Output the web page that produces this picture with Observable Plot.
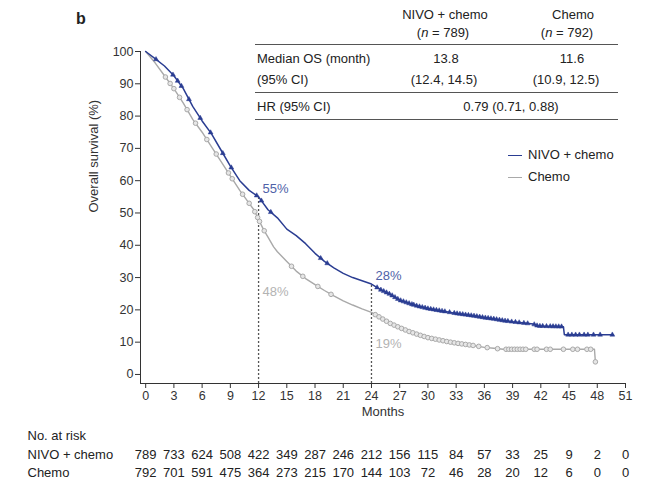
<!DOCTYPE html>
<html>
<head>
<meta charset="utf-8">
<script src="https://cdn.jsdelivr.net/npm/d3@7"></script>
<script src="https://cdn.jsdelivr.net/npm/@observablehq/plot@0.6"></script>
<style>
  body { margin: 0; background: #fff; }
  #wrap { position: relative; width: 651px; height: 486px; font-family: "Liberation Sans", Arial, sans-serif; color: #222; }
  .t { position: absolute; font-size: 13px; line-height: 16px; white-space: nowrap; }
  .c { transform: translateX(-50%); }
  .hl { position: absolute; left: 255px; width: 363px; height: 0; border-top: 1.5px solid #555; }
  .lg { position: absolute; width: 14px; height: 0; }
</style>
</head>
<body>
<div id="wrap">
  <div id="chart"></div>
  <div class="t" style="left:76px;top:11px;font-size:16px;font-weight:bold;">b</div>

  <div class="t c" style="left:445px;top:7px;">NIVO + chemo</div>
  <div class="t c" style="left:443px;top:25px;">(<i>n</i> = 789)</div>
  <div class="t c" style="left:573px;top:7px;">Chemo</div>
  <div class="t c" style="left:567px;top:25px;">(<i>n</i> = 792)</div>
  <div class="hl" style="top:44px;"></div>
  <div class="t" style="left:257px;top:51px;">Median OS (month)</div>
  <div class="t c" style="left:446px;top:51px;">13.8</div>
  <div class="t c" style="left:572px;top:51px;">11.6</div>
  <div class="t" style="left:257px;top:72px;">(95% CI)</div>
  <div class="t c" style="left:444px;top:72px;">(12.4, 14.5)</div>
  <div class="t c" style="left:566px;top:72px;">(10.9, 12.5)</div>
  <div class="hl" style="top:92px;"></div>
  <div class="t" style="left:257px;top:99px;">HR (95% CI)</div>
  <div class="t c" style="left:511px;top:99px;">0.79 (0.71, 0.88)</div>
  <div class="hl" style="top:119px;"></div>

  <div class="lg" style="left:508px;top:155px;border-top:1.5px solid #2a3d92;"></div>
  <div class="t" style="left:528px;top:147px;">NIVO + chemo</div>
  <div class="lg" style="left:508px;top:177px;border-top:1.5px solid #a9a9a9;"></div>
  <div class="t" style="left:528px;top:169px;">Chemo</div>
</div>
<script>
// ---- data ----
const xTicks = [0, 3, 6, 9, 12, 15, 18, 21, 24, 27, 30, 33, 36, 39, 42, 45, 48, 51];
const yTicks = [0, 10, 20, 30, 40, 50, 60, 70, 80, 90, 100];

const nivoTime = [0, 1, 2, 3, 4, 5, 6, 7, 8, 9, 10, 11, 12, 13, 14, 15, 16, 17, 18, 19, 20, 21, 22, 23, 24,
  25, 26, 27, 28, 29, 30, 31, 32, 33, 34, 35, 36, 37, 38, 39, 40, 41.2, 41.7, 44.4, 44.5, 49.7];
const nivoSurv = [100, 97.8, 95.5, 92.5, 88.5, 83, 78.5, 74.5, 69.5, 64.5, 60, 57, 55, 51, 48.5, 45, 43, 40.5, 37.5, 35, 33, 31.3, 30, 29, 28,
  26.2, 24.8, 23, 22, 21.1, 20.4, 19.9, 19.4, 18.9, 18.5, 18.1, 17.6, 17.2, 16.7, 16.3, 16.0, 15.6, 15.0, 14.8, 12.3, 12.3];

const chemoTime = [0, 1, 2, 3, 4, 5, 6, 7, 8, 9, 10, 11, 11.5, 12, 12.5, 13, 13.6, 14, 15, 16, 17, 18, 19, 20, 21, 22, 23, 24,
  25, 26, 27, 28, 29, 30, 31, 32, 33, 34, 35, 36, 37, 38, 47.7, 47.8];
const chemoSurv = [100, 96.5, 92.5, 88.5, 84, 79, 75, 70.5, 66, 61.5, 57, 53, 51, 48, 45, 42.5, 39.5, 38, 35, 32, 29.7, 27.8, 26, 24.3, 22.8, 21.5, 20.3, 19.2,
  17.5, 15.8, 14.5, 13.3, 12.3, 11.4, 10.8, 10.2, 9.7, 9.3, 8.9, 8.4, 8.1, 7.8, 7.8, 3.9];

const nivoCensor = [1.1, 2.9, 3.4, 3.8, 4.6, 5.8, 6.9, 8.2, 9.1, 11.8, 12.3, 13.3, 18.6, 19.3, 24.6, 25.0, 25.3, 25.6, 25.9,
  26.2, 26.5, 26.8, 27.1, 27.4, 27.7, 28.0, 28.3, 28.5, 28.8, 29.1, 29.4, 29.7, 30.0, 30.3, 30.6, 30.9, 31.2, 31.5, 31.8,
  32.3, 32.8, 33.1, 33.4, 33.7, 34.0, 34.3, 34.6, 34.9, 35.2, 35.5, 35.8, 36.1, 36.4, 36.7, 37.0, 37.3, 37.6, 37.9, 38.2,
  38.5, 38.9, 39.3, 39.7, 40.2, 40.6, 41.3, 41.6, 41.9, 42.2, 42.6, 43.0, 43.3, 43.6, 43.9, 44.2, 44.9, 45.3, 45.7, 46.1,
  46.6, 47.0, 47.6, 48.3, 49.6];
const chemoCensor = [2.1, 2.6, 3.0, 3.6, 4.4, 5.3, 6.5, 7.5, 8.8, 9.2, 10.3, 11.0, 11.6, 11.9, 12.1, 12.6, 15.5, 16.7, 18.3,
  19.7, 24.4, 24.8, 25.2, 25.6, 26.0, 26.4, 26.8, 27.2, 27.6, 28.0, 28.4, 28.8, 29.2, 29.6, 30.0, 30.4, 30.8, 31.2, 31.6,
  32.0, 32.4, 32.8, 33.2, 33.6, 34.0, 34.4, 34.8, 35.4, 36.3, 37.4, 38.3, 38.6, 38.9, 39.2, 39.5, 39.8, 40.1, 40.4, 41.3,
  41.6, 42.6, 43.0, 44.4, 45.4, 45.9, 46.9, 47.3, 47.8];

const landmarkMonths = [12, 24];
const nivoLandmark = [55, 28];
const chemoLandmark = [48, 19];

const riskMonths = [0, 3, 6, 9, 12, 15, 18, 21, 24, 27, 30, 33, 36, 39, 42, 45, 48, 51];
const nivoAtRisk = [789, 733, 624, 508, 422, 349, 287, 246, 212, 156, 115, 84, 57, 33, 25, 9, 2, 0];
const chemoAtRisk = [792, 701, 591, 475, 364, 273, 215, 170, 144, 103, 72, 46, 28, 20, 12, 6, 0, 0];

// ---- build ----
const blue = "#2a3d92", blueText = "#4f62a8", gray = "#a9a9a9", grayText = "#b3b3b3";
const xMin = -0.55, yMin = -2.8;

const toRows = (ts, ss) => ts.map((t, i) => ({t, s: ss[i]}));
const nivo = toRows(nivoTime, nivoSurv);
const chemo = toRows(chemoTime, chemoSurv);
// place each censor marker on the drawn line
function onLine(ts, ss, t) {
  for (let i = 1; i < ts.length; i++) {
    if (t <= ts[i]) { const f = (t - ts[i - 1]) / (ts[i] - ts[i - 1]); return ss[i - 1] + f * (ss[i] - ss[i - 1]); }
  }
  return ss[ss.length - 1];
}
const nivoC = nivoCensor.map(t => ({t, s: onLine(nivoTime, nivoSurv, t)}));
const chemoC = chemoCensor.map(t => ({t, s: onLine(chemoTime, chemoSurv, t)}));
const nivoLm = toRows(landmarkMonths, nivoLandmark);
const chemoLm = toRows(landmarkMonths, chemoLandmark);
const nivoRisk = riskMonths.map((t, i) => ({t, n: nivoAtRisk[i]}));
const chemoRisk = riskMonths.map((t, i) => ({t, n: chemoAtRisk[i]}));

const chart = Plot.plot({
  width: 651, height: 486,
  marginLeft: 140, marginRight: 26, marginTop: 51, marginBottom: 103,
  style: {fontFamily: "'Liberation Sans', Arial, sans-serif", fontSize: "12.5px", color: "#333", background: "transparent", overflow: "visible"},
  x: {domain: [xMin, 51], ticks: xTicks, line: true, tickSize: 5, tickPadding: 3, label: null},
  y: {domain: [yMin, 100], ticks: yTicks, line: true, tickSize: 5, tickPadding: 2, label: null},
  marks: [
    Plot.ruleX(nivoLm, {x: "t", y1: yMin, y2: "s", stroke: "#555", strokeWidth: 1.3, strokeDasharray: "2,2"}),
    Plot.line(chemo, {x: "t", y: "s", stroke: gray, strokeWidth: 1.4}),
    Plot.dot(chemoC, {x: "t", y: "s", r: 2.3, stroke: gray, fill: "#e6e6e6", strokeWidth: 1}),
    Plot.line(nivo, {x: "t", y: "s", stroke: blue, strokeWidth: 1.5}),
    Plot.dot(nivoC, {x: "t", y: "s", r: 1.8, symbol: "triangle", fill: blue, stroke: blue, strokeWidth: 0.5}),
    Plot.text(nivoLm, {x: "t", y: "s", text: d => d.s + "%", dx: 4, dy: -8, textAnchor: "start", fill: blueText, fontSize: 13}),
    Plot.text([chemoLm[0]], {x: "t", y: "s", text: d => d.s + "%", dx: 4, dy: 72, textAnchor: "start", fill: grayText, fontSize: 13}),
    Plot.text([chemoLm[1]], {x: "t", y: "s", text: d => d.s + "%", dx: 4, dy: 31, textAnchor: "start", fill: grayText, fontSize: 13}),
    Plot.text(["Months"], {frameAnchor: "bottom", dy: 32, fontSize: 13, fill: "#333"}),
    Plot.text(["Overall survival (%)"], {frameAnchor: "left", dx: -47, dy: -5, rotate: -90, fontSize: 13, fill: "#333"}),
    Plot.text(["No. at risk"], {frameAnchor: "bottom-left", dx: -113, dy: 56, textAnchor: "start", fontSize: 13, fill: "#222"}),
    Plot.text(["NIVO + chemo"], {frameAnchor: "bottom-left", dx: -113, dy: 75, textAnchor: "start", fontSize: 13, fill: "#222"}),
    Plot.text(["Chemo"], {frameAnchor: "bottom-left", dx: -113, dy: 93, textAnchor: "start", fontSize: 13, fill: "#222"}),
    Plot.text(nivoRisk, {x: "t", text: "n", frameAnchor: "bottom", dy: 75, fontSize: 13, fill: "#222"}),
    Plot.text(chemoRisk, {x: "t", text: "n", frameAnchor: "bottom", dy: 93, fontSize: 13, fill: "#222"})
  ]
});
document.getElementById("chart").appendChild(chart);
</script>
</body>
</html>
